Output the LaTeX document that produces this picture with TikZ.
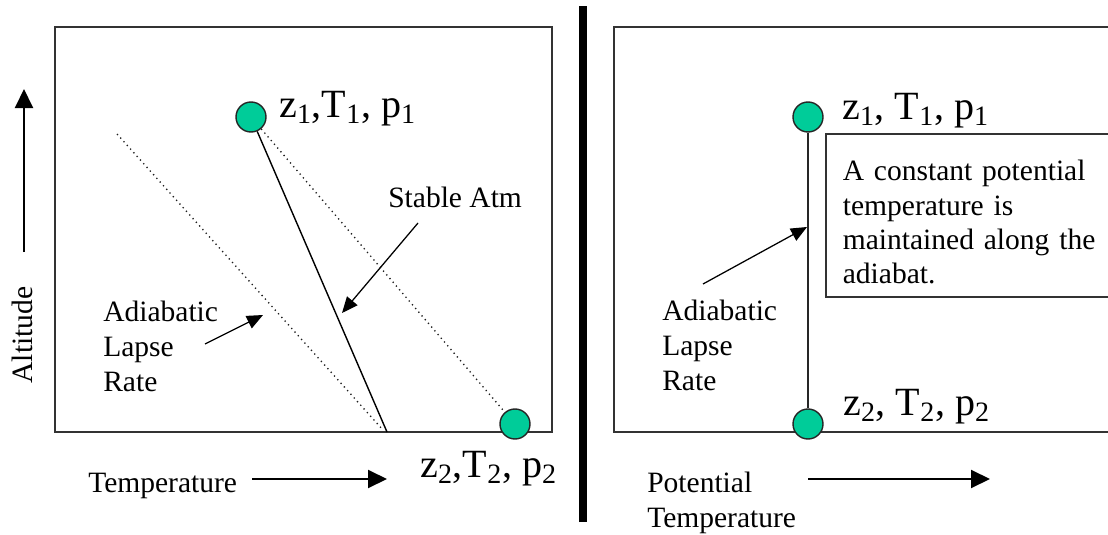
\documentclass[tikz,border=0pt]{standalone}
\usepackage{fontspec}
\setmainfont{Liberation Serif}
\usetikzlibrary{arrows.meta}
\definecolor{parcelgreen}{RGB}{0,204,153}
\definecolor{dotgray}{RGB}{30,30,30}
\tikzset{
  panel/.style={draw=black!80,line width=1.2pt},
  divider/.style={black,line width=5pt},
  sounding/.style={black,line width=1pt},
  adiabat/.style={black!85,line width=1.3pt},
  dryline/.style={dotgray,line width=0.95pt,dash pattern=on 0.9pt off 2.6pt},
  axisarrow/.style={-{Triangle[length=4.75mm,width=4.5mm]},line width=1.4pt},
  pointer/.style={-{Triangle[length=4mm,width=3.4mm]},line width=0.9pt},
  parcel/.style={circle,draw=black!85,line width=1pt,fill=parcelgreen,
                 minimum size=7.5mm,inner sep=0pt},
  statelab/.style={font=\fontsize{28.5}{34}\selectfont,inner sep=0pt,anchor=base west},
  lab/.style={font=\fontsize{21}{25}\selectfont,inner sep=0pt,anchor=base west},
  stack/.style={lab,text width=4.5cm,align=left},
  note/.style={draw=black!80,line width=1.2pt,font=\fontsize{21}{24.4}\selectfont,
               text width=6.9cm,align=left,inner xsep=4.25mm,inner ysep=0pt,
               text height=11.75mm,text depth=29mm,anchor=north west},
}

\begin{document}
\begin{tikzpicture}[x=1cm,y=1cm]
  \path[use as bounding box] (0,0) rectangle (27.7,13.35);

  % left panel: temperature profile
  \draw[panel] (1.375,2.55) rectangle (13.8,12.675);
  \coordinate (altfoot) at (0.6,7.05);
  \coordinate (alttip) at (0.6,11.125);
  \draw[axisarrow] (altfoot)--(alttip);
  \node[lab,anchor=center,rotate=90] (altlab) at (0.5625,4.975) {Altitude};

  \node[parcel] (parcelLa) at (6.275,10.425) {};
  \node[parcel] (parcelLb) at (12.875,2.75) {};
  \node[statelab] (stateLa) at (6.975,10.425)
    {z\textsubscript{1},T\textsubscript{1}, p\textsubscript{1}};
  \node[statelab] (stateLb) at (10.5,1.425)
    {z\textsubscript{2},T\textsubscript{2}, p\textsubscript{2}};

  \coordinate (dryhigh) at (2.925,10.0);
  \coordinate (drylow) at (9.575,2.6);
  \coordinate (stablefoot) at (9.675,2.55);
  \draw[dryline] (dryhigh)--(drylow);
  \draw[dryline] (parcelLa)--(parcelLb);
  \draw[sounding] (parcelLa)--(stablefoot);

  \node[lab] (stablelab) at (9.7,8.175) {Stable Atm};
  \coordinate (stabletail) at (10.45,7.775);
  \coordinate (stabletip) at (8.55,5.525);
  \draw[pointer] (stabletail)--(stabletip);

  \node[stack] (lapseL) at (2.575,5.325) {Adiabatic\\Lapse\\Rate};
  \coordinate (lapseLtail) at (5.125,4.75);
  \coordinate (lapseLtip) at (6.575,5.475);
  \draw[pointer] (lapseLtail)--(lapseLtip);

  \node[lab] (templab) at (2.2,1.05) {Temperature};
  \coordinate (tempfoot) at (6.3,1.375);
  \coordinate (temptip) at (9.675,1.375);
  \draw[axisarrow] (tempfoot)--(temptip);

  \draw[divider] (14.575,0.3)--(14.575,13.2);

  % right panel: potential temperature
  \draw[panel] (15.35,2.55) rectangle (27.9,12.675);
  \node[parcel] (parcelRa) at (20.2,10.425) {};
  \node[parcel] (parcelRb) at (20.2,2.75) {};
  \draw[adiabat] (parcelRa)--(parcelRb);
  \node[statelab] (stateRa) at (21.05,10.375)
    {z\textsubscript{1}, T\textsubscript{1}, p\textsubscript{1}};
  \node[statelab] (stateRb) at (21.075,2.975)
    {z\textsubscript{2}, T\textsubscript{2}, p\textsubscript{2}};

  \node[note] (thetanote) at (20.625,10.025)
    {A constant potential\\temperature is\\maintained along the\\adiabat.};

  \node[stack] (lapseR) at (16.55,5.35) {Adiabatic\\Lapse\\Rate};
  \coordinate (lapseRtail) at (17.575,6.25);
  \coordinate (lapseRtip) at (20.175,7.675);
  \draw[pointer] (lapseRtail)--(lapseRtip);

  \node[stack] (thetalab) at (16.175,1.05) {Potential\\Temperature};
  \coordinate (thetafoot) at (20.2,1.375);
  \coordinate (thetatip) at (24.75,1.375);
  \draw[axisarrow] (thetafoot)--(thetatip);
\end{tikzpicture}
\end{document}
